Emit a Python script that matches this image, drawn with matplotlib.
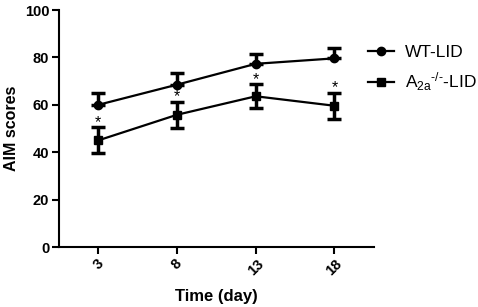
import matplotlib
matplotlib.use("Agg")
import matplotlib.pyplot as plt
from matplotlib.lines import Line2D
import numpy as np

plt.rcParams['font.family'] = ['Liberation Sans', 'DejaVu Sans']
plt.rcParams['mathtext.fontset'] = 'custom'
plt.rcParams['mathtext.rm'] = 'Liberation Sans'
plt.rcParams['mathtext.it'] = 'Liberation Sans'
plt.rcParams['mathtext.bf'] = 'Liberation Sans:bold'

days = ["3", "8", "13", "18"]
wt_mean = [60, 68.5, 77.3, 79.6]
wt_err = [5.0, 5.0, 4.2, 4.3]
ko_mean = [45, 55.8, 63.6, 59.6]
ko_err = [5.5, 5.4, 5.0, 5.5]
star_labels = ["*", "*", "*", "*"]
series_labels = ["WT-LID", r"A$_{\mathrm{2a}}$$^{\text{-/-}}$-LID"]

fig = plt.figure(figsize=(4.78, 3.07), dpi=100)
ax = fig.add_axes([0.1234, 0.1954, 0.782 - 0.1234, 0.9674 - 0.1954])

x = np.arange(len(days))
lw = 1.6
ax.errorbar(x, wt_mean, yerr=[np.zeros(len(wt_err)), wt_err], color='black', lw=lw,
            marker='o', ms=6, elinewidth=2.5, capsize=5, capthick=2.5)
ax.errorbar(x, ko_mean, yerr=ko_err, color='black', lw=lw,
            marker='s', ms=6, elinewidth=2.5, capsize=5, capthick=2.5)

for xi, m, e, s in zip(x, ko_mean, ko_err, star_labels):
    ax.text(xi, m + e + 0.2, s, ha='center', va='baseline', fontsize=11.5, color='black')

ax.set_xlim(-0.5, 3.5)
ax.set_ylim(0, 100)
ax.set_yticks([0, 20, 40, 60, 80, 100])
ax.set_xticks(x)
ax.set_xticklabels(days, rotation=45, ha='center', fontweight='bold', fontsize=10.5)
for lab in ax.get_yticklabels():
    lab.set_fontweight('bold')
    lab.set_fontsize(10.5)
ax.spines['top'].set_visible(False)
ax.spines['right'].set_visible(False)
ax.spines['left'].set_linewidth(1.5)
ax.spines['bottom'].set_linewidth(1.5)
ax.tick_params(width=1.5, length=5, pad=2)
ax.set_xlabel("Time (day)", fontweight='bold', fontsize=12, labelpad=8)
ax.set_ylabel("AIM scores", fontweight='bold', fontsize=11.5, labelpad=4)

handles = [Line2D([], [], color='black', lw=lw, marker='o', ms=6),
           Line2D([], [], color='black', lw=lw, marker='s', ms=6)]
fig.legend(handles, series_labels, loc='upper left', bbox_to_anchor=(368 / 478, 1 - 45 / 307),
           frameon=False, fontsize=12.5, handlelength=1.5, labelspacing=0.6,
           handletextpad=0.65, borderpad=0, borderaxespad=0)

fig.savefig("out.png", dpi=100)
